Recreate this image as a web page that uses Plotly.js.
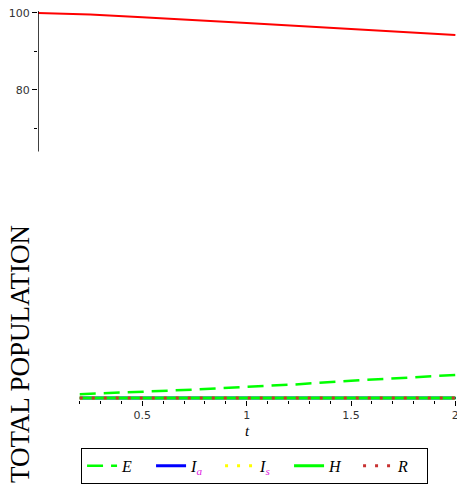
<!DOCTYPE html>
<html><head><meta charset="utf-8">
<script src="https://cdn.plot.ly/plotly-3.0.1.min.js"></script>
<style>html,body{margin:0;padding:0;background:#fff}</style>
</head><body><div id="chart" style="width:457px;height:487px"></div>
<script>
// Data
var tS = [0, 0.25, 0.5, 0.75, 1.0, 1.25, 1.5, 1.75, 2.0];
var S  = [100, 99.6, 98.9, 98.2, 97.4, 96.6, 95.8, 95.1, 94.3];
var tLow = [0.2, 0.5, 0.75, 1.0, 1.25, 1.5, 1.75, 2.0];
var E  = [1.0, 1.6, 2.2, 2.9, 3.6, 4.5, 5.2, 6.0];
var Ia = [0, 0, 0, 0, 0, 0, 0, 0];
var Is = [0, 0, 0, 0, 0, 0, 0, 0];
var H  = [0, 0, 0, 0, 0, 0, 0, 0];
var R  = [0, 0, 0, 0, 0, 0, 0, 0];
var xMajorTicks = [0.5, 1, 1.5, 2];
var xMajorLabels = ['0.5', '1', '1.5', '2'];
var xMinorTicks = [0.2, 0.3, 0.4, 0.6, 0.7, 0.8, 0.9, 1.1, 1.2, 1.3, 1.4, 1.6, 1.7, 1.8, 1.9];
var yMajorTicks = [80, 100];
var yMajorLabels = ['80', '100'];
var yMinorTicks = [70, 90];

var serif = 'Liberation Serif, Times New Roman, serif';
var traces = [
  {x: tS, y: S, mode: 'lines', line: {color: '#ff0000', width: 2}, showlegend: false, hoverinfo: 'skip'},
  {x: tLow, y: E, mode: 'lines', name: '<i>E</i>', line: {color: '#00ff00', width: 2.5, dash: '16px,8px'}},
  {x: tLow, y: Ia, mode: 'lines', name: "<i>I</i><sub><span style='color:#e020e0'><i>a</i></span></sub>", line: {color: '#0000ff', width: 3}},
  {x: tLow, y: Is, mode: 'lines', name: "<i>I</i><sub><span style='color:#e020e0'><i>s</i></span></sub>", line: {color: '#ffff00', width: 3, dash: '3px,9px'}},
  {x: tLow, y: H, mode: 'lines', name: '<i>H</i>', line: {color: '#00ff00', width: 3}},
  {x: tLow, y: R, mode: 'lines', name: '<i>R</i>', line: {color: '#c83232', width: 3, dash: '3px,9px'}}
];

var tickFont = {family: 'DejaVu Sans, Verdana, sans-serif', size: 11, color: '#333'};
var layout = {
  width: 457, height: 487,
  margin: {l: 38, r: 1, t: 11, b: 87, pad: 0},
  paper_bgcolor: '#fff', plot_bgcolor: '#fff',
  showlegend: true,
  legend: {
    orientation: 'h', x: 0.103, y: -0.123, xanchor: 'left', yanchor: 'top',
    bordercolor: '#000', borderwidth: 1, bgcolor: '#fff',
    font: {family: serif, size: 16, color: '#000'},
    itemwidth: 30, entrywidth: 24, traceorder: 'normal'
  },
  xaxis: {
    range: [0, 2.003], showgrid: false, zeroline: false, showline: false,
    tickmode: 'array', tickvals: xMajorTicks, ticktext: xMajorLabels,
    ticks: 'outside', ticklen: 5, tickcolor: '#000', tickwidth: 1,
    minor: {tickmode: 'array', tickvals: xMinorTicks, ticks: 'outside', ticklen: 3, tickcolor: '#000', showgrid: false},
    tickfont: tickFont, ticklabeloverflow: 'allow',
    title: {text: '<i>t</i>', font: {family: serif, size: 15, color: '#000'}, standoff: 4}
  },
  yaxis: {
    range: [-0.5, 100.5], showgrid: false, zeroline: false, showline: false,
    tickmode: 'array', tickvals: yMajorTicks, ticktext: yMajorLabels,
    ticks: 'outside', ticklen: 5, tickcolor: '#000', tickwidth: 1,
    minor: {tickmode: 'array', tickvals: yMinorTicks, ticks: 'outside', ticklen: 3, tickcolor: '#000', showgrid: false},
    tickfont: tickFont
  },
  shapes: [
    {type: 'line', xref: 'x', yref: 'y', x0: 0, x1: 0, y0: 64, y1: 100.5, line: {color: '#000', width: 1.5}},
    {type: 'line', xref: 'x', yref: 'y', x0: 0.2, x1: 2.003, y0: 0, y1: 0, line: {color: '#000', width: 1.5}, layer: 'below'}
  ],
  annotations: [
    {text: 'TOTAL POPULATION', textangle: -90, xref: 'paper', yref: 'paper',
     x: -0.043, y: 0.118, xanchor: 'center', yanchor: 'middle', showarrow: false,
     font: {family: serif, size: 27, color: '#000'}}
  ]
};
Plotly.newPlot('chart', traces, layout, {displayModeBar: false, staticPlot: true});
</script></body></html>
